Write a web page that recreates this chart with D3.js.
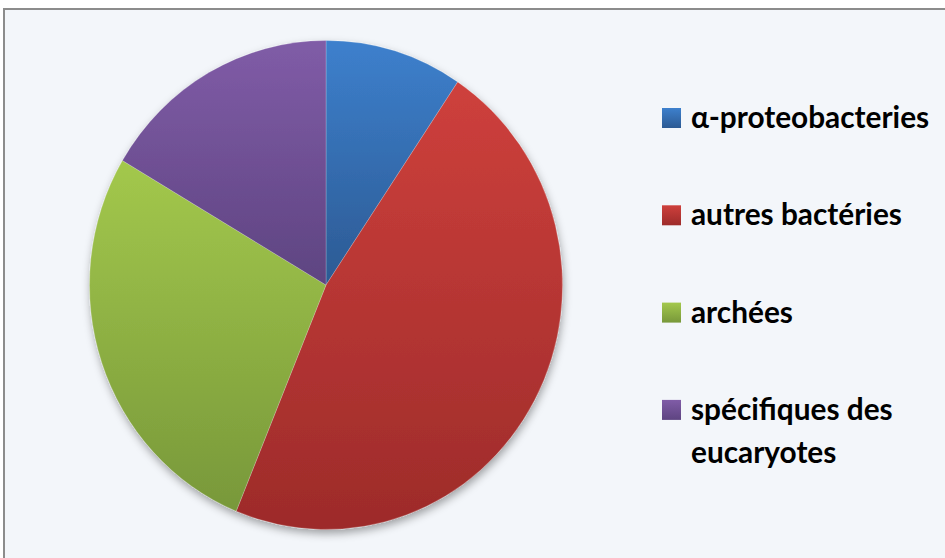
<!DOCTYPE html>
<html>
<head>
<meta charset="utf-8">
<script src="https://cdn.jsdelivr.net/npm/d3@7"></script>
<style>
  body { margin: 0; background: #fff; }
  svg { display: block; }
</style>
</head>
<body>
<svg width="945" height="558"></svg>
<script>
var svg = d3.select("svg"),
    width = +svg.attr("width"),
    height = +svg.attr("height");

// data (share of genes, %)
var categories = ["α-proteobacteries", "autres bactéries", "archées", "spécifiques des eucaryotes"];
var values = [9.4, 46.8, 27.3, 16.5];
var topColors = ["#3d80cd", "#ce403c", "#a3c84c", "#805ca7"];
var bottomColors = ["#2c5a93", "#9d2b2a", "#78983a", "#5e4481"];

var data = categories.map(function(c, i) { return {name: c, value: values[i], i: i}; });

// chart background and frame
svg.append("rect")
    .attr("x", 4).attr("y", 9)
    .attr("width", width).attr("height", height)
    .attr("fill", "#f3f6fa")
    .attr("stroke", "#8c8c8c")
    .attr("stroke-width", 2);

var defs = svg.append("defs");

data.forEach(function(d) {
    var g = defs.append("linearGradient")
        .attr("id", "grad" + d.i)
        .attr("x1", 0).attr("y1", 0).attr("x2", 0).attr("y2", 1);
    g.append("stop").attr("offset", "0%").attr("stop-color", topColors[d.i]);
    g.append("stop").attr("offset", "100%").attr("stop-color", bottomColors[d.i]);
});

var shadow = defs.append("filter")
    .attr("id", "shadow")
    .attr("x", "-10%").attr("y", "-10%").attr("width", "120%").attr("height", "120%");
shadow.append("feDropShadow")
    .attr("dx", 1).attr("dy", 4)
    .attr("stdDeviation", 4)
    .attr("flood-color", "#000")
    .attr("flood-opacity", 0.35);

// pie (slightly taller than wide, as in the original)
var cx = 326, cy = 285, rx = 236.5, ry = 244.5;

var pie = d3.pie().sort(null).value(function(d) { return d.value; });
var arc = d3.arc().innerRadius(0).outerRadius(rx);

var pieG = svg.append("g")
    .attr("transform", "translate(" + cx + "," + cy + ") scale(1," + (ry / rx) + ")");

pieG.append("g")
    .attr("filter", "url(#shadow)")
    .selectAll("path")
    .data(pie(data))
    .enter().append("path")
    .attr("d", arc)
    .attr("fill", function(d) { return "url(#grad" + d.data.i + ")"; })
    .attr("stroke", "rgba(255,255,255,0.25)")
    .attr("stroke-width", 0.8);

// legend
var legendX = 662, rowStep = 97.3, firstBase = 128;
var legend = svg.append("g");

var rows = legend.selectAll("g")
    .data(data)
    .enter().append("g")
    .attr("transform", function(d) { return "translate(" + legendX + "," + (firstBase + d.i * rowStep) + ")"; });

rows.append("rect")
    .attr("x", 0).attr("y", -20)
    .attr("width", 19).attr("height", 20)
    .attr("fill", function(d) { return "url(#grad" + d.i + ")"; });

var label = rows.append("text")
    .attr("x", 29).attr("y", 0)
    .style("font-family", "Lato, 'Open Sans', sans-serif")
    .style("font-weight", "bold")
    .style("font-size", "26px")
    .attr("fill", "#000");

// last label wraps on two lines
label.each(function(d) {
    var t = d3.select(this);
    var parts = d.i === 3 ? ["spécifiques des", "eucaryotes"] : [d.name];
    parts.forEach(function(p, k) {
        t.append("tspan").attr("x", 29).attr("dy", k === 0 ? 0 : 43).text(p);
    });
});

// fit the font so "autres bactéries" spans ~211px as in the picture
var probe = label.filter(function(d) { return d.i === 1; }).node();
var w = probe.getComputedTextLength();
var fs = 26 * 211 / w;
label.style("font-size", fs + "px");
</script>
</body>
</html>
